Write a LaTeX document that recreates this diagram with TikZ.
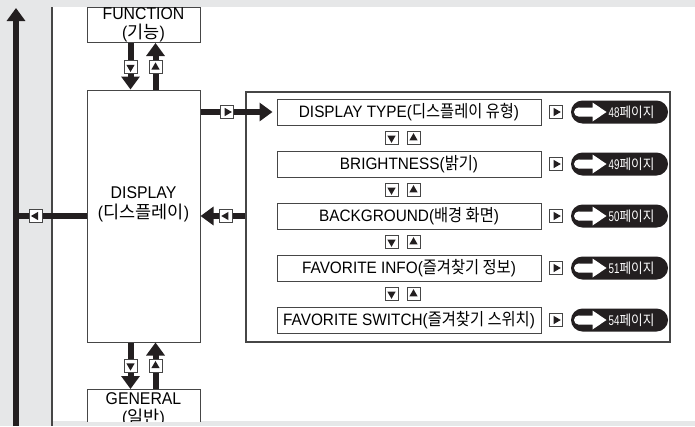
\documentclass[tikz,border=0pt]{standalone}
\usepackage{fontspec}
\setmainfont{Liberation Sans}[FakeStretch=0.93]
\newfontfamily\krfont{Noto Sans CJK KR}
\newfontfamily\krnarrow{Noto Sans CJK KR}[FakeStretch=0.9]
\newfontfamily\krpage{Noto Sans CJK KR}[FakeStretch=0.9]
\newfontfamily\numnarrow{Liberation Sans}[FakeStretch=0.7]
\newcommand\kr[1]{{\krfont\fontsize{17.5}{20}\selectfont #1}}
\newcommand\krn[1]{{\krnarrow\fontsize{17}{18}\selectfont #1}}
\newcommand\pg[1]{{\numnarrow #1}{\krpage 페이지}}
\usetikzlibrary{arrows.meta,calc,positioning}
\definecolor{bggray}{RGB}{230,231,232}
\definecolor{ink}{RGB}{35,31,32}
\definecolor{edge}{RGB}{70,70,70}

\tikzset{
  bigbox/.style={draw=edge, line width=1pt, fill=white, minimum width=113pt, inner sep=0pt,
    align=center, font=\fontsize{17}{19}\selectfont},
  item/.style={draw=edge, line width=1pt, fill=white, minimum width=264pt, minimum height=26pt,
    inner sep=0pt, font=\fontsize{16.5}{18}\selectfont},
  conn/.style={draw=ink, line width=6pt},
  conntip/.style={-{Triangle[width=18pt,length=13pt]}},
  tribox/.style={draw=edge, line width=0.9pt, fill=white, minimum size=13pt, inner sep=0pt,
    path picture={\fill[ink] ($(path picture bounding box.center)+(#1:4.8pt)$)
      -- ($(path picture bounding box.center)+(#1+120:4.8pt)$)
      -- ($(path picture bounding box.center)+(#1+240:4.8pt)$) -- cycle;}},
  pill/.style={fill=ink, rounded corners=11.5pt, minimum width=97pt, minimum height=23pt, inner sep=0pt,
    path picture={\fill[white, sharp corners] ($(path picture bounding box.west)+(7.5pt,4.5pt)$) -- ++(14pt,0pt)
      -- ++(0pt,5pt) -- ++(14pt,-9.5pt) -- ++(-14pt,-9.5pt) -- ++(0pt,5pt) -- ++(-14pt,0pt) -- cycle;
      \fill[white] ($(path picture bounding box.west)+(7.5pt,0pt)$) circle[radius=4.5pt];},
    label={[text=white, xshift=12pt, font=\fontsize{14}{15}\selectfont]center:\pg{#1}}}
}

\begin{document}
\begin{tikzpicture}[x=1pt,y=-1pt]
  \useasboundingbox (0,0) rectangle (695,426);
  \fill[bggray] (0,0) rectangle (695,426);
  \fill[white] (52,7) rectangle (695,421);

  % boxes cut by the page edges
  \begin{scope}
    \clip (52,7) rectangle (695,421);
    \node[bigbox, minimum height=35pt, anchor=south] (func) at (143.5,43) {FUNCTION\\(\kr{기능})};
    \node[bigbox, minimum height=40pt, anchor=north] (gen) at (143.5,389) {GENERAL\\(\kr{일반})};
  \end{scope}
  \draw[edge, line width=1.2pt] (52,7) -- (52,426);

  \node[bigbox, minimum height=252pt,
    label={[align=center, font=\fontsize{17}{20}\selectfont, yshift=12pt]center:DISPLAY\\(\kr{디스플레이})}]
    (disp) at (143.5,216) {};

  % display submenu
  \node[draw=edge, line width=1.2pt, minimum width=424pt, minimum height=250pt, inner sep=0pt] (panel) at (458,217) {};
  \foreach \nm/\yy/\txt/\pnum in {dtype/112/{DISPLAY TYPE(\krn{디스플레이 유형})}/48,
      bright/164/{BRIGHTNESS(\krn{밝기})}/49, backgr/216/{BACKGROUND(\krn{배경 화면})}/50,
      favinfo/268/{FAVORITE INFO(\krn{즐겨찾기 정보})}/51, favsw/320/{FAVORITE SWITCH(\krn{즐겨찾기 스위치})}/54}{
    \node[item] (\nm) at (409,\yy) {\txt};
    \node[tribox=0] (\nm-go) at (556,\yy) {};
    \node[pill=\pnum] (\nm-pg) at (619.5,\yy) {};
  }
  \foreach \yy [count=\i] in {138,190,242,294}{
    \node[tribox=-90] (dn\i) at (391.5,\yy) {};
    \node[tribox=90] (up\i) at (413.5,\yy) {};
  }

  % connectors
  \coordinate (busbot) at (16,426);
  \coordinate (bustop) at (16,8);
  \draw[conn, conntip] (busbot) -- (bustop);
  \draw[conn] (disp.west) -- node[tribox=180, pos=0.72] (bl) {} (disp.west -| bustop);

  \draw[conn, conntip] ([xshift=-13pt]func.south) -- node[tribox=-90, pos=0.52] (fd) {} ([xshift=-13pt]disp.north);
  \draw[conn, conntip] ([xshift=12pt]disp.north) -- node[tribox=90, pos=0.48] (fu) {} ([xshift=12pt]func.south);
  \draw[conn, conntip] ([xshift=-13pt]disp.south) -- node[tribox=-90] (gd) {} ([xshift=-13pt]gen.north);
  \draw[conn, conntip] ([xshift=12pt]gen.north) -- node[tribox=90] (gu) {} ([xshift=12pt]disp.south);

  \draw[conn, conntip, shorten >=4pt] (disp.east |- dtype.west) -- node[tribox=0, pos=0.35] (dr) {} (dtype.west);
  \draw[conn, conntip] (panel.west |- disp.east) -- node[tribox=180, pos=0.43] (dl) {} (disp.east);
\end{tikzpicture}
\end{document}
